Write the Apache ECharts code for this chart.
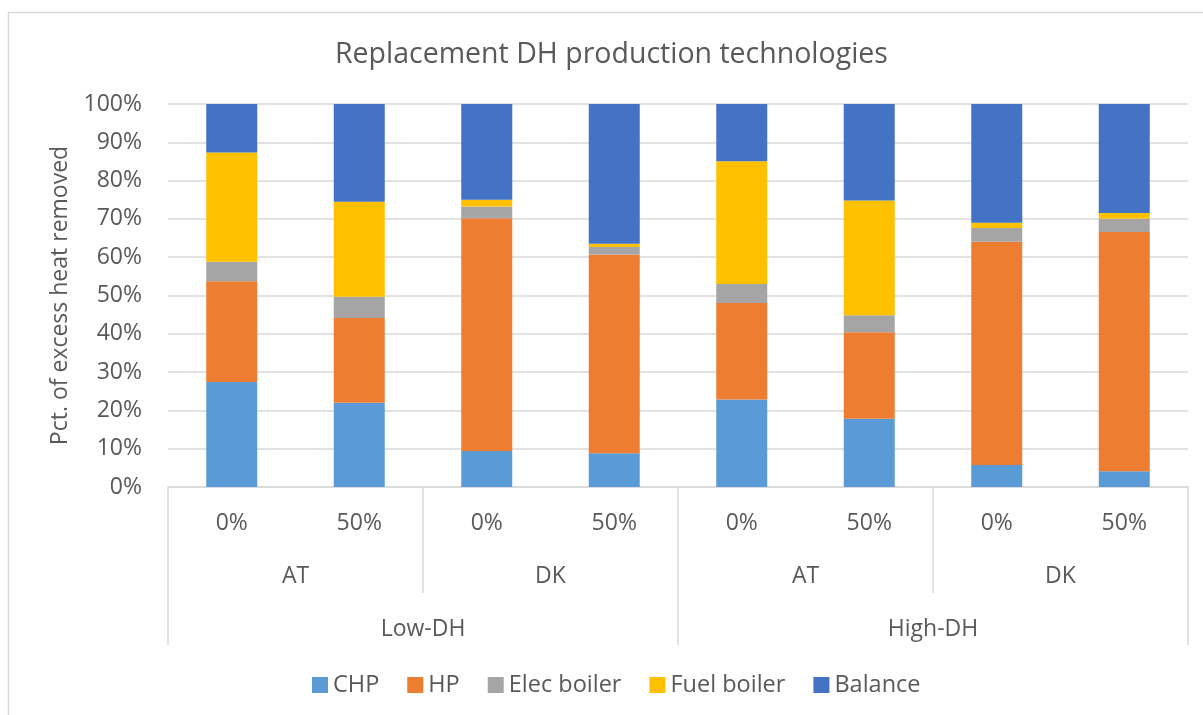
<!DOCTYPE html>
<html>
<head>
<meta charset="utf-8">
<title>Replacement DH production technologies</title>
<script src="https://cdn.jsdelivr.net/npm/echarts@6/dist/echarts.min.js"></script>
<style>
  html, body { margin: 0; padding: 0; background: #fff; }
  #chart { width: 1203px; height: 715px; }
</style>
</head>
<body>
<div id="chart"></div>
<script>
  // x axis levels
  var categories = ['0%', '50%', '0%', '50%', '0%', '50%', '0%', '50%'];
  var countries = ['AT', 'DK', 'AT', 'DK'];
  var scenarios = ['Low-DH', 'High-DH'];

  // pct. of excess heat removed, per bar
  var chp = [27.4, 22.0, 9.4, 8.8, 22.85, 17.8, 5.75, 4.1];
  var hp = [26.35, 22.15, 60.8, 51.9, 25.2, 22.6, 58.3, 62.5];
  var elecBoiler = [5.05, 5.5, 3.05, 1.95, 4.95, 4.45, 3.55, 3.45];
  var fuelBoiler = [28.55, 24.85, 1.75, 0.85, 32.05, 29.95, 1.4, 1.5];
  var balance = [12.65, 25.5, 25.0, 36.5, 14.95, 25.2, 31.0, 28.45];

  var yTicks = [0, 10, 20, 30, 40, 50, 60, 70, 80, 90, 100];

  var fontFamily = '"Open Sans", sans-serif';
  var textColor = '#595959';
  var lineColor = '#d9d9d9';

  var myChart = echarts.init(document.getElementById('chart'));

  function barSeries(name, data, color) {
    return {
      name: name,
      type: 'bar',
      stack: 'total',
      barWidth: '40%',
      xAxisIndex: 0,
      itemStyle: { color: color },
      data: data
    };
  }

  var option = {
    backgroundColor: '#fff',
    animation: false,
    textStyle: { fontFamily: fontFamily },
    title: {
      text: 'Replacement DH production technologies',
      left: 330,
      top: 35,
      textStyle: {
        fontFamily: fontFamily,
        fontSize: 28.5,
        fontWeight: 'normal',
        color: textColor
      }
    },
    legend: {
      left: 307,
      top: 668,
      itemWidth: 16,
      itemHeight: 16,
      itemGap: 28,
      icon: 'rect',
      textStyle: { fontFamily: fontFamily, fontSize: 23.5, color: textColor },
      data: ['CHP', 'HP', 'Elec boiler', 'Fuel boiler', 'Balance']
    },
    grid: {
      left: 168,
      right: 15,
      top: 104,
      bottom: 228,
      containLabel: false
    },
    xAxis: [{
      type: 'category',
      data: categories,
      position: 'bottom',
      axisLine: { show: true, lineStyle: { color: lineColor, width: 1.5 } },
      axisTick: { show: false },
      axisLabel: {
        margin: 36,
        verticalAlign: 'middle',
        fontFamily: fontFamily,
        fontSize: 23,
        color: textColor
      }
    }, {
      type: 'category',
      data: countries,
      position: 'bottom',
      axisLine: { show: false },
      axisTick: { show: true, length: 106, lineStyle: { color: lineColor, width: 1.5 } },
      axisLabel: {
        margin: 89,
        verticalAlign: 'middle',
        fontFamily: fontFamily,
        fontSize: 23,
        color: textColor
      }
    }, {
      type: 'category',
      data: scenarios,
      position: 'bottom',
      axisLine: { show: false },
      axisTick: { show: true, length: 158, lineStyle: { color: lineColor, width: 1.5 } },
      axisLabel: {
        margin: 142,
        verticalAlign: 'middle',
        fontFamily: fontFamily,
        fontSize: 23,
        color: textColor
      }
    }],
    yAxis: {
      type: 'value',
      min: yTicks[0],
      max: yTicks[yTicks.length - 1],
      interval: 10,
      name: 'Pct. of excess heat removed',
      nameLocation: 'middle',
      nameGap: 96,
      nameTextStyle: { fontFamily: fontFamily, fontSize: 23, color: textColor },
      axisLine: { show: false },
      axisTick: { show: false },
      axisLabel: {
        margin: 26,
        fontFamily: fontFamily,
        fontSize: 23,
        color: textColor,
        formatter: '{value}%'
      },
      splitLine: { show: true, lineStyle: { color: lineColor, width: 1.5 } }
    },
    graphic: [{
      type: 'rect',
      shape: { x: 8.5, y: 12.5, width: 1210, height: 720 },
      style: { fill: 'none', stroke: lineColor, lineWidth: 1.5 },
      silent: true
    }],
    series: [
      barSeries('CHP', chp, '#5B9BD5'),
      barSeries('HP', hp, '#ED7D31'),
      barSeries('Elec boiler', elecBoiler, '#A5A5A5'),
      barSeries('Fuel boiler', fuelBoiler, '#FFC000'),
      barSeries('Balance', balance, '#4472C4')
    ]
  };

  myChart.setOption(option);
</script>
</body>
</html>
